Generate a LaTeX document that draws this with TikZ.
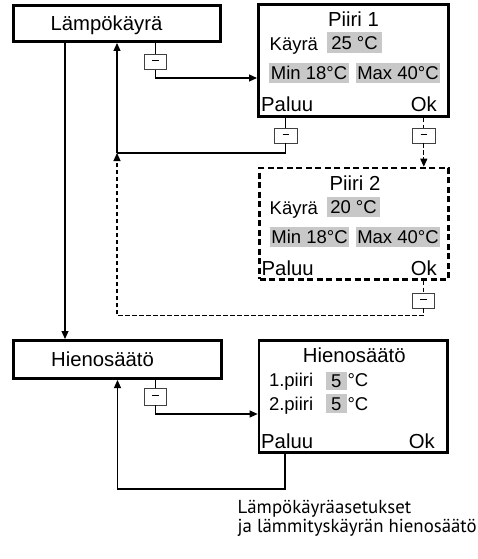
\documentclass[tikz,border=0pt]{standalone}
\usepackage{fontspec}
\setmainfont{Liberation Sans}
\newfontfamily\capfont{PT Sans}
\usetikzlibrary{arrows.meta}
\definecolor{fieldgray}{RGB}{200,200,200}
\newcommand\myfs[1]{\fontsize{#1}{#1}\selectfont}
\begin{document}
\begin{tikzpicture}[x=1pt,y=-1pt,
  bigbox/.style={draw,line width=2.6pt,rectangle,inner sep=0pt},
  dashbox/.style={bigbox,dash pattern=on 6pt off 3.5pt},
  btn/.style={draw=black!75,line width=0.8pt,fill=white,minimum width=22.5pt,minimum height=15pt,inner sep=0pt},
  conn/.style={line width=1.1pt},
  arr/.style={conn,-{Triangle[length=8pt,width=7pt]}},
  dashl/.style={dash pattern=on 4.5pt off 2.5pt},
  txt/.style={inner sep=0pt},
  big/.style={txt,font=\myfs{20.3}},
  row/.style={txt,font=\myfs{18.5}},
  field/.style={fill=fieldgray,inner sep=0pt,font=\myfs{18.5},text height=13.2pt,text depth=0pt},
 ]
\useasboundingbox (0,0) rectangle (477,559);

% main boxes
\node[bigbox,minimum width=207.4pt,minimum height=36.4pt] (lk) at (117,23.5) {};
\node[big,anchor=base] (lkt) at (106.5,30.5) {Lämpökäyrä};
\node[bigbox,minimum width=208.4pt,minimum height=38.4pt] (hsl) at (117.5,359.5) {};
\node[big,anchor=base] (hslt) at (102.5,366.7) {Hienosäätö};

% Piiri 1
\node[bigbox,minimum width=190.4pt,minimum height=112.4pt] (p1) at (353.5,60.5) {};
\node[big,anchor=base] (p1t) at (353.5,26.7) {Piiri 1};
\node[row,anchor=base west] (p1k) at (269.5,50.5) {Käyrä};
\node[field,minimum width=55pt,minimum height=21pt] (p1v) at (354.5,42.8) {25 °C};
\node[field,minimum width=80pt,minimum height=20.6pt] (p1min) at (309,73) {Min 18°C};
\node[field,minimum width=84pt,minimum height=20.6pt] (p1max) at (398,73) {Max 40°C};
\node[big,anchor=base west] (p1p) at (261,111.7) {Paluu};
\node[big,anchor=base east] (p1o) at (437,111.7) {Ok};

% Piiri 2
\node[dashbox,minimum width=189pt,minimum height=111.4pt] (p2) at (354,223.7) {};
\node[big,anchor=base] (p2t) at (355,190.5) {Piiri 2};
\node[row,anchor=base west] (p2k) at (269.5,214.5) {Käyrä};
\node[field,minimum width=53pt,minimum height=20.6pt] (p2v) at (353.5,207) {20 °C};
\node[field,minimum width=79pt,minimum height=20.6pt] (p2min) at (309.5,236.8) {Min 18°C};
\node[field,minimum width=84pt,minimum height=20.6pt] (p2max) at (398,236.8) {Max 40°C};
\node[big,anchor=base west] (p2p) at (261.5,275.5) {Paluu};
\node[big,anchor=base east] (p2o) at (437,275.5) {Ok};

% Hienosaato right
\node[bigbox,minimum width=188.7pt,minimum height=112.4pt] (hsr) at (353.3,396.5) {};
\node[big,anchor=base] (hsrt) at (354.3,362.3) {Hienosäätö};
\node[row,anchor=base west] (r1) at (268.8,386.7) {1.piiri};
\node[field,minimum width=20.7pt,minimum height=18pt] (r1v) at (336.3,381) {5};
\node[row,anchor=base west] (r1u) at (347.3,386.7) {°C};
\node[row,anchor=base west] (r2) at (268.8,410) {2.piiri};
\node[field,minimum width=20.7pt,minimum height=19pt] (r2v) at (336.3,403.5) {5};
\node[row,anchor=base west] (r2u) at (347.3,410) {°C};
\node[big,anchor=base west] (hsrp) at (261,448.3) {Paluu};
\node[big,anchor=base east] (hsro) at (435,448.3) {Ok};

% buttons
\node[btn] (b1) at (155.5,61.8) {\rule[2.8pt]{6.5pt}{1.1pt}};
\node[btn] (b2) at (285.8,135.5) {\rule[2.8pt]{6.5pt}{1.1pt}};
\node[btn] (b3) at (423.8,135.5) {\rule[2.8pt]{6.5pt}{1.1pt}};
\node[btn] (b4) at (423.3,300.5) {\rule[2.8pt]{6.5pt}{1.1pt}};
\node[btn,minimum height=16.7pt] (b5) at (155.3,396.7) {\rule[2.8pt]{6.5pt}{1.1pt}};

% junctions
\coordinate (j1) at (117,153);
\coordinate (j2) at (117,315.7);
\coordinate (c65) at (65,200);
\coordinate (c285) at (285,489);

% connectors
\draw[arr] (lk.south -| c65) -- (hsl.north -| c65);
\draw[conn] (lk.south -| b1.north) -- (b1.north);
\draw[arr] (b1.south) |- ([yshift=-17.5pt]p1.west);
\draw[conn] (p1.south -| b2.north) -- (b2.north);
\draw[conn] (b2.south) |- (j1);
\draw[arr] (j1) -- (lk.south);
\draw[conn,dashl] (p1.south -| b3.north) -- (b3.north);
\draw[arr,dashl] (b3.south) -- (p2.north -| b3.south);
\draw[conn,dashl] (p2.south -| b4.north) -- (b4.north);
\draw[arr,dashl] (b4.south) |- (j2) -- (j1);
\draw[conn] (hsl.south -| b5.north) -- (b5.north);
\draw[arr] (b5.south) |- ([yshift=-17.5pt]hsr.west);
\draw[arr] (hsr.south -| c285) -- (c285) -| (hsl.south);

% caption
\node[txt,anchor=base west,align=left,font=\capfont\fontsize{18.8}{19}\selectfont] (cap) at (237.5,532.5) {Lämpökäyräasetukset\\ja lämmityskäyrän hienosäätö};
\end{tikzpicture}
\end{document}
